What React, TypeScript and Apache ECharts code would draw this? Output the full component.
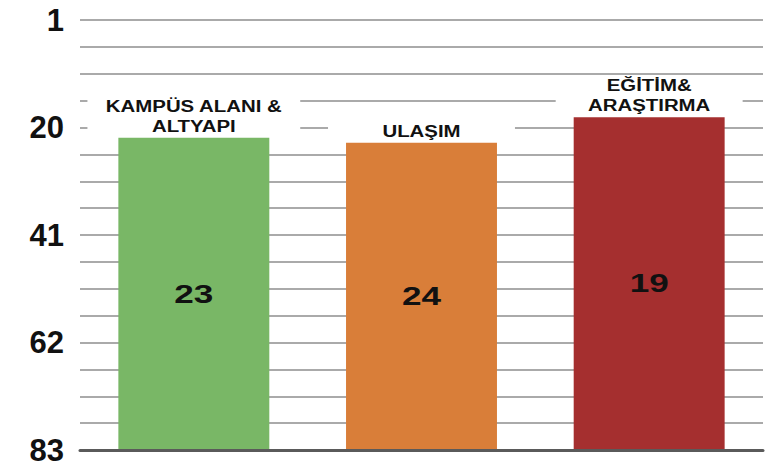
import React, { useEffect, useRef } from "react";
import * as echarts from "echarts";

const categories = ["KAMPÜS ALANI &\nALTYAPI", "ULAŞIM", "EĞİTİM&\nARAŞTIRMA"];
const values = [23, 24, 19];
const barColors = ["#79b766", "#d97e39", "#a52f2f"];
const yTickLabels = ["1", "20", "41", "62", "83"];
const yMin = 0;
const yMax = 84;
const yGridStep = 5.25;
const yLabelStep = 21;

const FONT = "'Liberation Sans', Arial, Helvetica, sans-serif";

function measure(text: string, size: number): number {
  const ctx = document.createElement("canvas").getContext("2d");
  if (!ctx) return text.length * size * 0.6;
  ctx.font = `bold ${size}px ${FONT}`;
  return Math.max(...text.split("\n").map((l) => ctx.measureText(l).width));
}

export default function App() {
  const ref = useRef<HTMLDivElement>(null);
  useEffect(() => {
    if (!ref.current) return;
    const chart = echarts.init(ref.current, null, { renderer: "svg" });
    const nameSize = 17;
    const nameScale = 1.2;
    const valueSize = 26;
    const valueScale = 1.35;
    const lh = 20;
    const option: any = {
      animation: false,
      backgroundColor: "#ffffff",
      grid: { left: 80, right: 6, top: 20, bottom: 16 },
      xAxis: {
        type: "category",
        data: categories,
        z: 5,
        axisLine: { show: true, onZero: false, lineStyle: { color: "#5a5a5a", width: 3 } },
        axisTick: { show: false },
        axisLabel: { show: false },
        splitLine: { show: false },
      },
      yAxis: {
        type: "value",
        inverse: true,
        min: yMin,
        max: yMax,
        interval: yGridStep,
        axisLine: { show: false },
        axisTick: { show: false },
        axisLabel: {
          margin: 16,
          fontSize: 31,
          fontWeight: "bold",
          fontFamily: FONT,
          color: "#111111",
          formatter: (v: number) => {
            const k = v / yLabelStep;
            const r = Math.round(k);
            return Math.abs(k - r) < 1e-6 ? yTickLabels[r] ?? "" : "";
          },
        },
        splitLine: { lineStyle: { color: "#8e8e8e", width: 1.5 } },
      },
      series: [
        {
          type: "custom",
          data: values.map((v, i) => [i, v]),
          encode: { x: 0, y: 1 },
          z: 2,
          renderItem: (params: any, api: any) => {
            const idx = api.value(0);
            const val = api.value(1);
            const top = api.coord([idx, val]);
            const base = api.coord([idx, yMax]);
            const bandW = api.size([1, 0])[0];
            const bw = bandW * 0.663;
            const cx = top[0];
            const barTop = top[1];
            const name = categories[idx];
            const nLines = name.split("\n").length;
            const textBottom = barTop - 2;
            const textTop = textBottom - nLines * lh;
            const tw = measure(name, nameSize) * nameScale;
            const boxW = Math.max(tw, bw) + 36;
            return {
              type: "group",
              children: [
                {
                  type: "rect",
                  shape: { x: cx - boxW / 2, y: textTop + 1, width: boxW, height: barTop - textTop - 1 },
                  style: { fill: "#ffffff" },
                },
                {
                  type: "rect",
                  shape: { x: cx - bw / 2, y: barTop, width: bw, height: base[1] - barTop },
                  style: { fill: barColors[idx] },
                },
                {
                  type: "text",
                  x: cx,
                  y: textBottom,
                  scaleX: nameScale,
                  style: {
                    text: name,
                    fontSize: nameSize,
                    fontWeight: "bold",
                    fontFamily: FONT,
                    fill: "#111111",
                    align: "center",
                    verticalAlign: "bottom",
                    lineHeight: lh,
                  },
                },
                {
                  type: "text",
                  x: cx,
                  y: (barTop + base[1]) / 2,
                  scaleX: valueScale,
                  style: {
                    text: String(val),
                    fontSize: valueSize,
                    fontWeight: "bold",
                    fontFamily: FONT,
                    fill: "#111111",
                    align: "center",
                    verticalAlign: "middle",
                  },
                },
              ],
            };
          },
        },
      ],
    };
    chart.setOption(option);
    return () => chart.dispose();
  }, []);
  return (
    <div
      ref={ref}
      style={{ position: "fixed", left: 0, top: 0, width: 769, height: 466 }}
    />
  );
}
